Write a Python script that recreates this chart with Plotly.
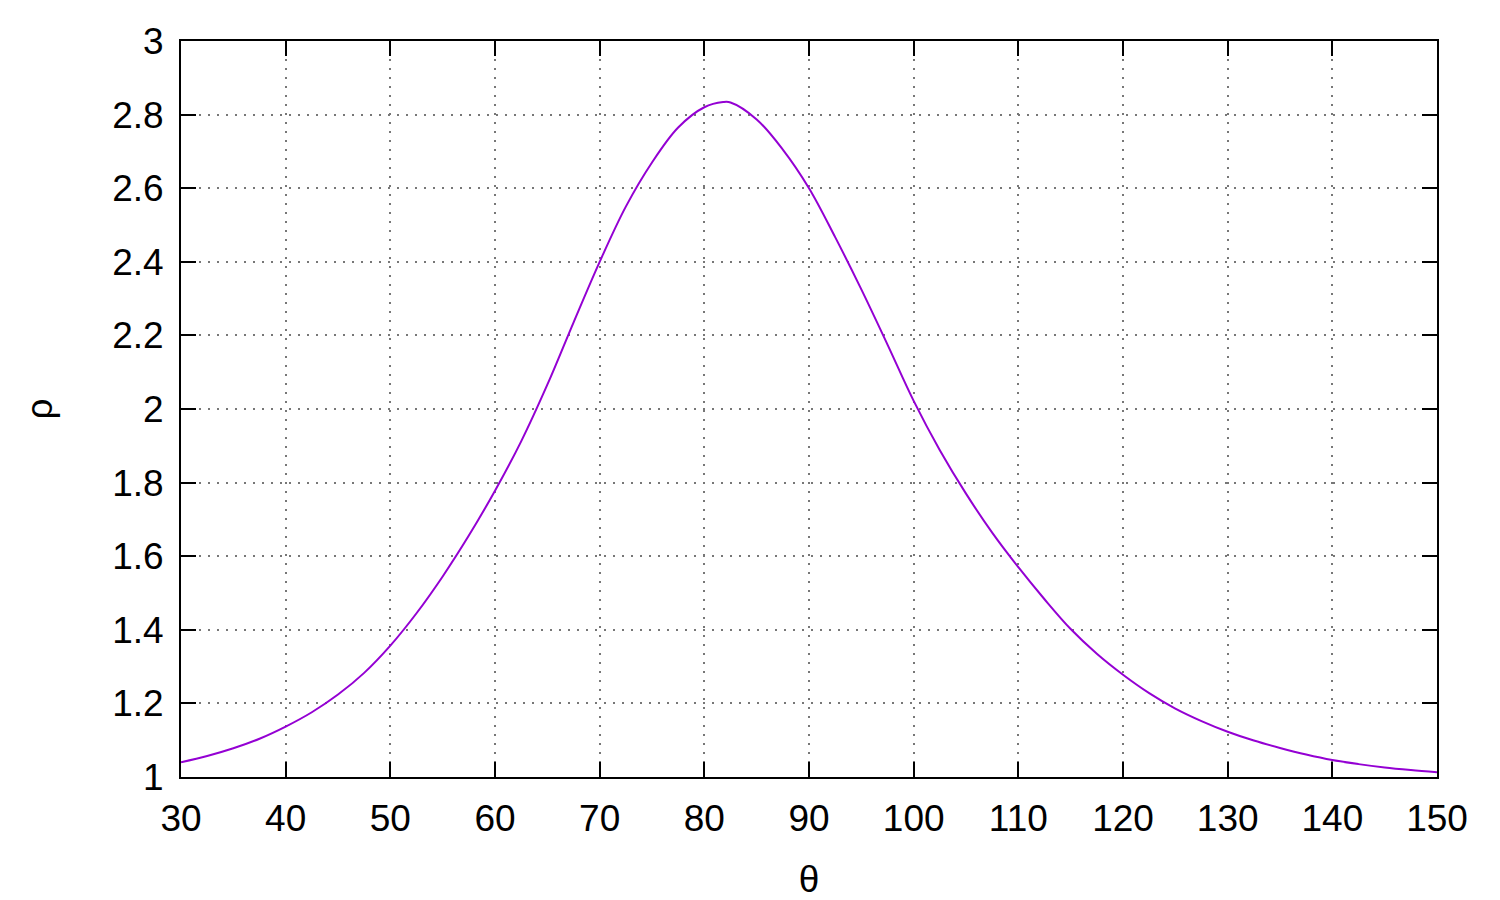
import plotly.graph_objects as go

theta = [30, 32.5, 35, 37.5, 40, 42.5, 45, 47.5, 50, 52.5, 55, 57.5, 60, 62.5, 65,
         67.5, 70, 72.5, 75, 77.5, 80, 81.8, 82.5, 85, 87.5, 90, 92.5, 95, 97.5, 100,
         102.5, 105, 107.5, 110, 112.5, 115, 117.5, 120, 122.5, 125, 127.5, 130,
         132.5, 135, 137.5, 140, 142.5, 145, 147.5, 150]
rho = [1.040, 1.057, 1.078, 1.104, 1.137, 1.176, 1.224, 1.283, 1.357, 1.445, 1.545,
       1.656, 1.778, 1.912, 2.066, 2.235, 2.400, 2.550, 2.670, 2.765, 2.820, 2.834,
       2.833, 2.787, 2.705, 2.600, 2.467, 2.325, 2.175, 2.022, 1.888, 1.770, 1.664,
       1.570, 1.483, 1.402, 1.335, 1.278, 1.228, 1.186, 1.152, 1.123, 1.099, 1.079,
       1.061, 1.046, 1.035, 1.026, 1.019, 1.013]

x_ticks = list(range(30, 151, 10))
y_ticks = [1, 1.2, 1.4, 1.6, 1.8, 2, 2.2, 2.4, 2.6, 2.8, 3]
y_tick_text = ["1", "1.2", "1.4", "1.6", "1.8", "2", "2.2", "2.4", "2.6", "2.8", "3"]

FONT = "Liberation Sans, Arial, Helvetica, sans-serif"
FS = 37

fig = go.Figure()
fig.add_trace(go.Scatter(x=theta, y=rho, mode="lines",
                         line=dict(color="#9400D3", width=2, shape="spline", smoothing=1.0),
                         showlegend=False))

axis_common = dict(
    showline=True, linecolor="black", linewidth=2, mirror="ticks",
    ticks="inside", ticklen=15, tickwidth=2, tickcolor="black",
    showgrid=True, gridcolor="#777777", gridwidth=1.5, griddash="1.5px,7.5px",
    zeroline=False, automargin=False,
    tickfont=dict(family=FONT, size=FS, color="black"),
)

fig.update_xaxes(range=[30, 150], tickvals=x_ticks, ticktext=[str(v) for v in x_ticks],
                 title=dict(text="θ", font=dict(family=FONT, size=FS, color="black"), standoff=32),
                 ticklabelstandoff=8, **axis_common)
fig.update_yaxes(range=[1, 3], tickvals=y_ticks, ticktext=y_tick_text,
                 title=dict(text="ρ", font=dict(family=FONT, size=FS, color="black"), standoff=48),
                 ticklabelstandoff=8, **axis_common)

fig.update_layout(width=1484, height=892,
                  margin=dict(l=173, r=55, t=33, b=123, autoexpand=False),
                  plot_bgcolor="white", paper_bgcolor="white",
                  font=dict(family=FONT, size=FS, color="black"))

fig.write_html("out.html")
